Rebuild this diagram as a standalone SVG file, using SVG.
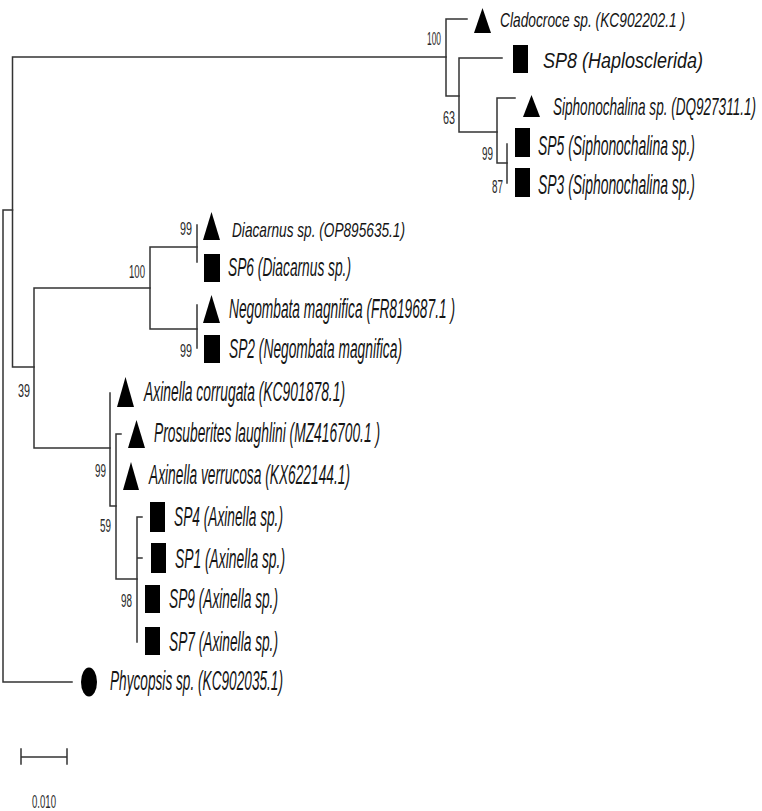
<svg xmlns="http://www.w3.org/2000/svg" width="762" height="811" viewBox="0 0 762 811">
<style>
.br{stroke:#333;stroke-width:1.5;fill:none;stroke-linecap:square}
.lab{font-family:"Liberation Sans",Arial,sans-serif;font-style:italic;fill:#151515}
.num{font-family:"Liberation Sans",Arial,sans-serif;font-size:9.5px;fill:#2a2a2a}
.mk{fill:#000}
</style>
<rect width="762" height="811" fill="#fff"/>
<g id="connectors" class="br">
<path d="M3 210V682M3 210H12.5M3 682H72"/>
<path d="M12.5 57V367M12.5 57H446M12.5 367H34"/>
<path d="M446 19V96M446 19H467M446 96H459"/>
<path d="M459 58V132M459 58H502M459 132H497"/>
<path d="M497 98V163M497 98H515M497 163H507"/>
<path d="M507 144V183"/>
<path d="M34 288V448M34 288H150M34 448H110"/>
<path d="M150 247V329M150 247H197M150 329H197"/>
<path d="M197 225V262M197 305V348"/>
<path d="M110 393V506M110 506H116"/>
<path d="M116 434V579M116 434H121M116 579H137"/>
<path d="M137 517V642M137 517H142M137 558H142"/>
</g>
<g id="support">
<text class="num" transform="translate(427,45) scale(1,2)" textLength="14" lengthAdjust="spacingAndGlyphs">100</text>
<text class="num" transform="translate(443,124) scale(1,2)" textLength="12" lengthAdjust="spacingAndGlyphs">63</text>
<text class="num" transform="translate(482,160) scale(1,2)" textLength="11" lengthAdjust="spacingAndGlyphs">99</text>
<text class="num" transform="translate(492,193) scale(1,2)" textLength="11" lengthAdjust="spacingAndGlyphs">87</text>
<text class="num" transform="translate(180,235) scale(1,2)" textLength="12" lengthAdjust="spacingAndGlyphs">99</text>
<text class="num" transform="translate(129,278) scale(1,2)" textLength="16" lengthAdjust="spacingAndGlyphs">100</text>
<text class="num" transform="translate(180,357) scale(1,2)" textLength="12" lengthAdjust="spacingAndGlyphs">99</text>
<text class="num" transform="translate(18,397) scale(1,2)" textLength="12" lengthAdjust="spacingAndGlyphs">39</text>
<text class="num" transform="translate(95,477) scale(1,2)" textLength="11" lengthAdjust="spacingAndGlyphs">99</text>
<text class="num" transform="translate(100,532) scale(1,2)" textLength="11" lengthAdjust="spacingAndGlyphs">59</text>
<text class="num" transform="translate(121,607) scale(1,2)" textLength="11" lengthAdjust="spacingAndGlyphs">98</text>
</g>
<g id="cladocroce"><polygon class="mk" points="474,33 482.5,8 491,33"/><text class="lab" transform="translate(500,27) scale(1,2)" font-size="10" textLength="185" lengthAdjust="spacingAndGlyphs">Cladocroce sp. (KC902202.1 )</text></g>
<g id="sp8"><rect class="mk" x="513" y="45" width="15" height="28"/><text class="lab" transform="translate(543,68) scale(1,2)" font-size="11.2" textLength="160" lengthAdjust="spacingAndGlyphs">SP8 (Haplosclerida)</text></g>
<g id="siphonochalina"><polygon class="mk" points="523,117 531.5,95 540,117"/><text class="lab" transform="translate(553,115) scale(1,2)" font-size="11.5" textLength="203" lengthAdjust="spacingAndGlyphs">Siphonochalina sp. (DQ927311.1)</text></g>
<g id="sp5"><rect class="mk" x="515" y="128" width="15" height="29"/><text class="lab" transform="translate(538,155) scale(1,2)" font-size="13.5" textLength="157" lengthAdjust="spacingAndGlyphs">SP5 (Siphonochalina sp.)</text></g>
<g id="sp3"><rect class="mk" x="515" y="168" width="15" height="29"/><text class="lab" transform="translate(538,194) scale(1,2)" font-size="13.5" textLength="157" lengthAdjust="spacingAndGlyphs">SP3 (Siphonochalina sp.)</text></g>
<g id="diacarnus"><polygon class="mk" points="203,240 211.5,212 220,240"/><text class="lab" transform="translate(232,237) scale(1,2)" font-size="10" textLength="173" lengthAdjust="spacingAndGlyphs">Diacarnus sp. (OP895635.1)</text></g>
<g id="sp6"><rect class="mk" x="204" y="254" width="16" height="28"/><text class="lab" transform="translate(228,276) scale(1,2)" font-size="12.5" textLength="123" lengthAdjust="spacingAndGlyphs">SP6 (Diacarnus sp.)</text></g>
<g id="negombata"><polygon class="mk" points="203,323 211.5,295 220,323"/><text class="lab" transform="translate(229,318) scale(1,2)" font-size="14" textLength="226" lengthAdjust="spacingAndGlyphs">Negombata magnifica (FR819687.1 )</text></g>
<g id="sp2"><rect class="mk" x="204" y="335" width="16" height="28"/><text class="lab" transform="translate(229,358) scale(1,2)" font-size="14" textLength="173" lengthAdjust="spacingAndGlyphs">SP2 (Negombata magnifica)</text></g>
<g id="axinella-corrugata"><polygon class="mk" points="117,407 125.5,377 134,407"/><text class="lab" transform="translate(144,401) scale(1,2)" font-size="14" textLength="201" lengthAdjust="spacingAndGlyphs">Axinella corrugata (KC901878.1)</text></g>
<g id="prosuberites"><polygon class="mk" points="128,448 136.5,420 145,448"/><text class="lab" transform="translate(154,442) scale(1,2)" font-size="14" textLength="226" lengthAdjust="spacingAndGlyphs">Prosuberites laughlini (MZ416700.1 )</text></g>
<g id="axinella-verrucosa"><polygon class="mk" points="123,490 131,462 139,490"/><text class="lab" transform="translate(149,484) scale(1,2)" font-size="14" textLength="201" lengthAdjust="spacingAndGlyphs">Axinella verrucosa (KX622144.1)</text></g>
<g id="sp4"><rect class="mk" x="150" y="502" width="15" height="30"/><text class="lab" transform="translate(174,526) scale(1,2)" font-size="14" textLength="109" lengthAdjust="spacingAndGlyphs">SP4 (Axinella sp.)</text></g>
<g id="sp1"><rect class="mk" x="151" y="543" width="15" height="30"/><text class="lab" transform="translate(175,568) scale(1,2)" font-size="14" textLength="110" lengthAdjust="spacingAndGlyphs">SP1 (Axinella sp.)</text></g>
<g id="sp9"><rect class="mk" x="145" y="585" width="15" height="28"/><text class="lab" transform="translate(169,608) scale(1,2)" font-size="14" textLength="109" lengthAdjust="spacingAndGlyphs">SP9 (Axinella sp.)</text></g>
<g id="sp7"><rect class="mk" x="145" y="627" width="15" height="28"/><text class="lab" transform="translate(169,651) scale(1,2)" font-size="14" textLength="109" lengthAdjust="spacingAndGlyphs">SP7 (Axinella sp.)</text></g>
<g id="phycopsis"><ellipse class="mk" cx="89" cy="682" rx="8" ry="14.5"/><text class="lab" transform="translate(110,690) scale(1,2)" font-size="14" textLength="173" lengthAdjust="spacingAndGlyphs">Phycopsis sp. (KC902035.1)</text></g>
<g id="scale-bar">
<path class="br" d="M21 757H67M21 749V764M67 749V764"/>
<text class="num" transform="translate(32,808) scale(1,2)" textLength="24" lengthAdjust="spacingAndGlyphs">0.010</text>
</g>
</svg>
